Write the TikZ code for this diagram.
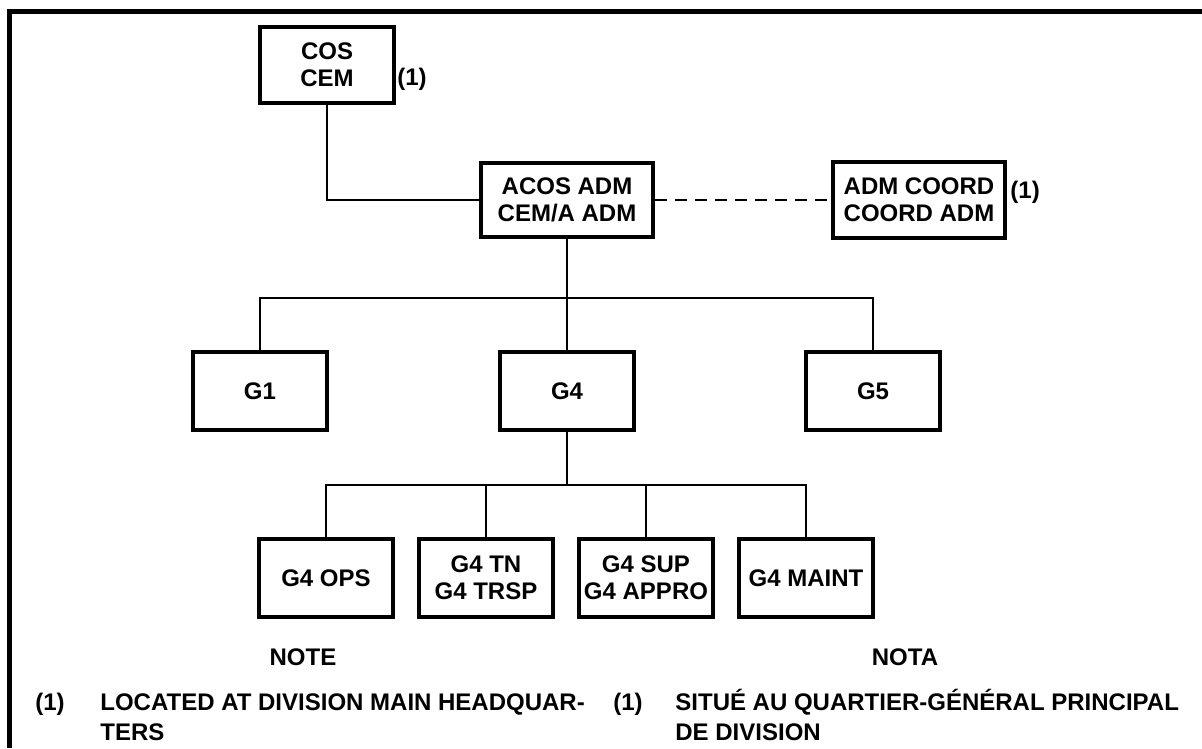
\documentclass[tikz,border=0pt]{standalone}
\usepackage{fontspec}
\setmainfont{Liberation Sans}
\newcommand{\boxfont}{\fontsize{12}{13.5}\selectfont\bfseries}
\newcommand{\notefont}{\fontsize{12}{15}\selectfont\bfseries}
\tikzset{
  unitbox/.style={draw, line width=1.9pt, minimum width=67pt, minimum height=39pt, inner sep=0pt, align=center, font=\boxfont},
  link/.style={line width=0.8pt},
  marktext/.style={inner sep=0pt, font=\boxfont},
  notetext/.style={anchor=base west, inner sep=0pt, font=\notefont},
}
\begin{document}
\begin{tikzpicture}[x=0.5pt, y=-0.5pt, line join=miter]
	\useasboundingbox (0,0) rectangle (1202,748);
	% 1. Outer frame (top and left sides only)
	\draw[line width=2.5pt] (9,748) -- (9,12) -- (1202,12);
	
	% 2. Command and coordination boxes
	\node[unitbox, minimum height=38pt] (cos) at (327,65) {COS\\CEM};
	\node[marktext, anchor=west] (cosmark) at (397,79) {(1)};
	\node[unitbox, minimum width=86pt, minimum height=37pt] (acos) at (567,200) {ACOS ADM\\CEM/A ADM};
	\node[unitbox, minimum width=86pt, minimum height=38pt] (coord) at (919,200) {ADM COORD\\COORD ADM};
	\node[marktext, anchor=west] (coordmark) at (1010,192) {(1)};
	
	% 3. Staff branches
	\node[unitbox] (g1) at (260,391) {G1};
	\node[unitbox] (g4) at (567,391) {G4};
	\node[unitbox] (g5) at (873,391) {G5};
	
	% 4. G4 sections
	\node[unitbox] (ops) at (326,578) {G4 OPS};
	\node[unitbox] (trsp) at (486,578) {G4 TN\\G4 TRSP};
	\node[unitbox] (appro) at (646,578) {G4 SUP\\G4 APPRO};
	\node[unitbox] (maint) at (806,578) {G4 MAINT};
	
	% 5. Connectors
	\coordinate (gbar) at (567,298);
	\coordinate (subbar) at (567,485);
	\draw[link] (cos.south) |- (acos.west);
	\draw[link, dash pattern=on 6pt off 4pt] (acos.east) -- (coord.west);
	\draw[link] (acos.south) -- (g4.north);
	\draw[link] (g1.north) |- (gbar) -| (g5.north);
	\draw[link] (g4.south) -- (subbar);
	\draw[link] (ops.north) |- (subbar) -| (maint.north);
	\draw[link] (trsp.north) -- (trsp.north |- subbar);
	\draw[link] (appro.north) -- (appro.north |- subbar);
	
	% 6. Notes in English and French
	\node[notetext, anchor=base] (notehead) at (303,665) {NOTE};
	\node[notetext, anchor=base] (notahead) at (905,665) {NOTA};
	\node[notetext] (enmark) at (35,710) {(1)};
	\node[notetext] (enline1) at (100,710) {LOCATED AT DIVISION MAIN HEADQUAR-};
	\node[notetext] (enline2) at (100,740) {TERS};
	\node[notetext] (frmark) at (613,710) {(1)};
	\node[notetext] (frline1) at (675,710) {SITUÉ AU QUARTIER-GÉNÉRAL PRINCIPAL};
	\node[notetext] (frline2) at (675,740) {DE DIVISION};
\end{tikzpicture}
\end{document}
